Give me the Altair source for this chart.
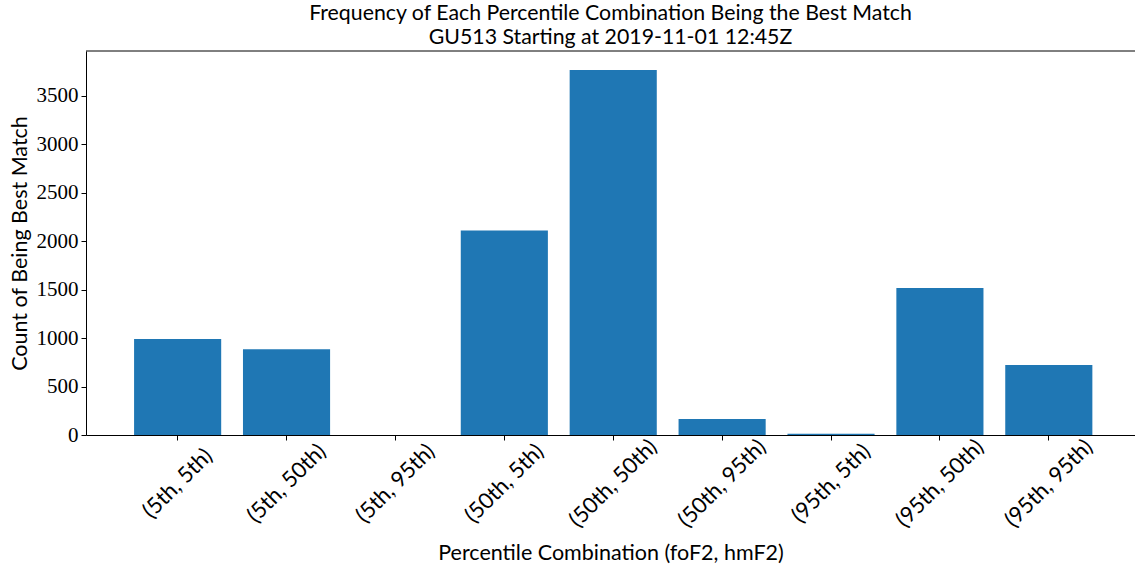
import altair as alt
import pandas as pd

categories = ["(5th, 5th)", "(5th, 50th)", "(5th, 95th)", "(50th, 5th)", "(50th, 50th)",
              "(50th, 95th)", "(95th, 5th)", "(95th, 50th)", "(95th, 95th)"]
counts = [990, 885, 0, 2110, 3765, 165, 12, 1515, 722]

df = pd.DataFrame({"combo": categories, "count": counts})

serif = "Liberation Serif"
sans = "Lato"
W, H = 1049, 384

bars = alt.Chart(df).mark_bar(color="#1f77b4").encode(
    x=alt.X("combo:N", sort=categories,
            scale=alt.Scale(paddingInner=0.2, paddingOuter=0.4165, align=0.53),
            axis=alt.Axis(title="Percentile Combination (foF2, hmF2)", labelAngle=-45,
                          labelAlign="center", labelBaseline="middle",
                          labelFont=sans, labelFontSize=22,
                          titleFont=sans, titleFontSize=21.5, titleFontWeight="normal",
                          titlePadding=12, labelPadding=43)),
    y=alt.Y("count:Q", scale=alt.Scale(domain=[0, 3960], nice=False),
            axis=alt.Axis(title="Count of Being Best Match", values=[0, 500, 1000, 1500, 2000, 2500, 3000, 3500],
                          format="d",
                          labelFont=serif, labelFontSize=21, titleFont=sans, titleFontSize=21.5,
                          titleFontWeight="normal", titlePadding=5, labelPadding=3, grid=False)),
)

top_spine = alt.Chart(pd.DataFrame({"a": [0]})).mark_rule(color="black", strokeWidth=1).encode(
    y=alt.value(0), x=alt.value(0), x2=alt.value(W + 5)
)

chart = alt.layer(bars, top_spine).properties(
    width=W, height=H,
    title=alt.TitleParams(text=["Frequency of Each Percentile Combination Being the Best Match",
                                "GU513 Starting at 2019-11-01 12:45Z"],
                          font=sans, fontSize=21.3, fontWeight="normal", anchor="middle",
                          offset=2, lineHeight=24, color="black"),
    autosize=alt.AutoSizeParams(type="none"),
    padding={"left": 86, "top": 51, "right": 0, "bottom": 132},
).configure_axis(
    domainColor="black", tickColor="black", labelColor="black", titleColor="black",
    tickSize=5, domainWidth=1, tickWidth=1,
).configure_view(strokeWidth=0)

chart.save("out.html", embed_options={"renderer": "svg", "actions": False})
